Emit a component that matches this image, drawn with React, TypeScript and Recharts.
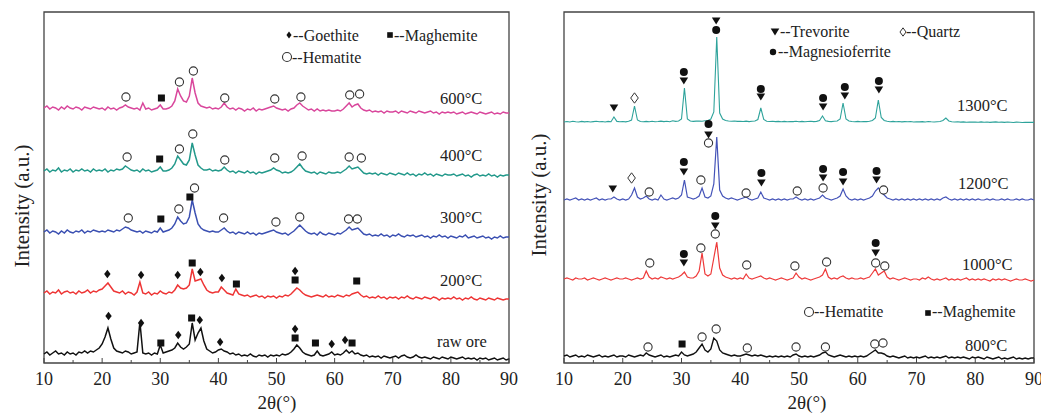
import { ComposedChart, Line, Scatter, XAxis, YAxis, ReferenceArea } from 'recharts'

// 2θ grid, 0.5° step from 10° to 90°
const twoTheta = Array.from({ length: 161 }, (_, i) => 10 + i * 0.5)
const xTicks = [10, 15, 20, 25, 30, 35, 40, 45, 50, 55, 60, 65, 70, 75, 80, 85, 90]

// ---- left panel: raw ore and low-temperature roasts ----
const rawOre = [
  9, 11, 8, 10, 12, 9, 10, 8, 11, 9, 10, 8, 11, 10, 12, 10, 12, 11, 13, 15,
  19, 26, 35, 24, 15, 12, 11, 10, 12, 11, 9, 10, 11, 41, 10, 9, 10, 8, 10, 9,
  18, 10, 11, 12, 13, 15, 20, 16, 14, 16, 19, 40, 23, 30, 35, 22, 14, 12, 10, 11,
  13, 14, 12, 11, 9, 10, 8, 9, 7, 8, 7, 9, 7, 6, 8, 7, 8, 6, 8, 7,
  8, 7, 9, 8, 9, 11, 14, 18, 15, 11, 9, 8, 7, 8, 12, 8, 7, 8, 9, 11,
  8, 9, 8, 10, 13, 10, 12, 9, 10, 8, 7, 8, 6, 7, 6, 7, 5, 7, 6, 5,
  6, 7, 5, 7, 8, 6, 5, 6, 8, 6, 5, 6, 5, 4, 6, 5, 4, 6, 5, 4,
  6, 5, 4, 5, 6, 4, 5, 4, 5, 3, 5, 4, 5, 3, 4, 5, 3, 4, 5, 3,
  4,
]
const t200 = [
  10, 12, 9, 11, 10, 13, 9, 11, 12, 10, 11, 9, 12, 10, 11, 13, 10, 12, 11, 13,
  14, 17, 20, 16, 12, 11, 10, 12, 9, 11, 10, 8, 11, 21, 10, 9, 11, 8, 10, 9,
  12, 10, 9, 11, 10, 13, 18, 15, 14, 15, 18, 34, 22, 23, 24, 18, 13, 11, 10, 11,
  11, 16, 13, 10, 9, 8, 14, 9, 8, 7, 8, 6, 7, 8, 6, 7, 5, 7, 6, 7,
  5, 7, 6, 8, 7, 9, 12, 15, 13, 10, 8, 7, 6, 7, 8, 7, 6, 8, 6, 7,
  6, 8, 7, 6, 8, 7, 9, 10, 11, 8, 6, 7, 5, 6, 5, 7, 5, 6, 4, 6,
  5, 6, 4, 6, 5, 7, 5, 4, 6, 5, 4, 6, 5, 4, 6, 5, 3, 5, 4, 5,
  4, 6, 4, 5, 3, 5, 4, 6, 4, 3, 5, 4, 3, 5, 4, 3, 5, 4, 3, 4,
  4,
]
const t300 = [
  11, 13, 10, 12, 11, 9, 12, 10, 13, 11, 10, 12, 11, 13, 10, 12, 11, 13, 12, 11,
  12, 11, 13, 12, 11, 13, 12, 14, 16, 15, 13, 12, 11, 12, 10, 12, 11, 10, 12, 11,
  15, 11, 12, 13, 15, 19, 26, 22, 19, 20, 26, 43, 30, 19, 15, 13, 12, 11, 12, 11,
  11, 13, 15, 12, 10, 11, 9, 11, 10, 9, 11, 9, 10, 8, 10, 9, 10, 11, 12, 13,
  11, 10, 9, 10, 8, 10, 12, 15, 18, 15, 12, 10, 9, 10, 8, 11, 9, 8, 10, 9,
  8, 10, 9, 11, 13, 16, 13, 14, 15, 12, 9, 8, 9, 7, 8, 7, 9, 7, 8, 6,
  8, 7, 9, 7, 6, 8, 7, 8, 6, 7, 8, 6, 7, 5, 7, 6, 8, 6, 7, 5,
  7, 6, 5, 7, 6, 8, 5, 6, 7, 5, 6, 7, 5, 6, 4, 6, 5, 7, 5, 6,
  6,
]
const t400 = [
  12, 14, 11, 13, 12, 15, 11, 13, 12, 14, 11, 13, 12, 14, 12, 13, 11, 14, 12, 13,
  12, 14, 11, 13, 12, 14, 13, 14, 17, 15, 13, 12, 13, 11, 14, 12, 13, 11, 12, 13,
  16, 12, 12, 13, 15, 19, 27, 23, 19, 18, 23, 40, 28, 18, 15, 13, 13, 14, 12, 13,
  12, 13, 16, 13, 11, 12, 10, 12, 11, 10, 12, 10, 11, 9, 11, 10, 11, 12, 13, 15,
  13, 12, 10, 11, 10, 11, 13, 16, 19, 15, 12, 11, 10, 11, 9, 11, 10, 9, 11, 10,
  10, 11, 10, 12, 14, 17, 14, 15, 16, 13, 10, 9, 10, 9, 10, 8, 10, 9, 8, 10,
  9, 8, 10, 9, 8, 10, 8, 9, 7, 9, 8, 10, 8, 9, 7, 9, 8, 7, 9, 8,
  8, 9, 7, 8, 9, 7, 8, 6, 8, 9, 7, 8, 7, 9, 7, 8, 6, 8, 7, 8,
  8,
]
const t600 = [
  15, 17, 14, 16, 15, 13, 16, 14, 17, 15, 14, 16, 15, 13, 16, 15, 14, 16, 15, 14,
  15, 13, 16, 14, 15, 13, 15, 16, 18, 16, 15, 14, 15, 13, 20, 14, 15, 13, 14, 15,
  18, 14, 14, 15, 17, 22, 34, 27, 22, 21, 27, 45, 30, 20, 17, 16, 15, 16, 14, 15,
  14, 16, 20, 16, 14, 15, 13, 15, 14, 12, 14, 13, 15, 12, 14, 13, 14, 15, 16, 17,
  15, 14, 13, 14, 12, 14, 15, 18, 20, 17, 15, 13, 14, 12, 14, 12, 13, 12, 13, 12,
  12, 13, 12, 14, 17, 20, 16, 18, 19, 15, 13, 12, 13, 11, 12, 11, 12, 10, 12, 11,
  11, 12, 10, 12, 11, 10, 12, 11, 10, 12, 11, 10, 11, 12, 10, 11, 9, 11, 10, 11,
  10, 11, 9, 10, 11, 9, 10, 11, 10, 9, 11, 10, 9, 10, 11, 9, 10, 9, 11, 10,
  10,
]

// ---- right panel: high-temperature roasts ----
const t800 = [
  7, 8, 6, 7, 8, 6, 7, 6, 8, 7, 6, 7, 8, 6, 7, 6, 7, 8, 6, 7,
  7, 6, 8, 7, 6, 7, 8, 7, 10, 8, 7, 6, 7, 8, 6, 7, 6, 7, 8, 7,
  11, 8, 7, 8, 9, 11, 15, 19, 13, 11, 14, 25, 22, 13, 10, 9, 8, 7, 8, 7,
  7, 8, 9, 8, 7, 8, 7, 8, 7, 6, 7, 6, 7, 6, 7, 6, 7, 6, 8, 9,
  7, 6, 7, 6, 7, 6, 7, 8, 10, 11, 8, 7, 6, 7, 8, 7, 6, 7, 6, 7,
  6, 7, 6, 7, 9, 11, 13, 10, 10, 9, 7, 6, 7, 6, 5, 6, 7, 5, 6, 5,
  6, 5, 6, 7, 5, 6, 5, 6, 5, 6, 7, 5, 6, 5, 6, 5, 6, 5, 4, 6,
  5, 6, 5, 4, 6, 5, 4, 5, 6, 4, 5, 4, 5, 6, 4, 5, 4, 5, 4, 5,
  5,
]
const t1000 = [
  9, 10, 9, 8, 10, 9, 9, 10, 8, 9, 10, 9, 8, 9, 10, 9, 8, 9, 10, 9,
  9, 10, 9, 8, 9, 10, 9, 10, 17, 11, 9, 10, 9, 11, 10, 9, 10, 9, 10, 11,
  13, 16, 11, 10, 10, 12, 17, 35, 14, 12, 14, 30, 46, 20, 13, 11, 10, 9, 10, 9,
  10, 9, 14, 10, 9, 10, 11, 12, 10, 9, 10, 9, 8, 9, 10, 9, 8, 9, 10, 15,
  11, 9, 10, 9, 8, 9, 10, 11, 13, 19, 11, 9, 10, 9, 11, 12, 10, 9, 10, 9,
  9, 10, 9, 10, 11, 15, 19, 13, 15, 17, 11, 9, 10, 9, 8, 9, 10, 9, 8, 9,
  9, 8, 10, 9, 11, 9, 8, 9, 8, 9, 10, 8, 9, 8, 9, 8, 9, 10, 8, 9,
  8, 9, 8, 9, 8, 7, 9, 8, 9, 8, 9, 8, 7, 8, 9, 8, 8, 9, 8, 7,
  8,
]
const t1200 = [
  8, 9, 8, 9, 10, 8, 9, 8, 9, 8, 9, 10, 8, 9, 8, 9, 9, 11, 9, 8,
  9, 8, 9, 13, 20, 11, 9, 10, 12, 9, 8, 9, 8, 13, 9, 8, 9, 10, 9, 10,
  13, 28, 11, 10, 9, 10, 12, 20, 11, 10, 12, 24, 71, 18, 12, 10, 9, 10, 9, 8,
  9, 10, 11, 9, 8, 9, 10, 16, 10, 9, 8, 9, 8, 9, 8, 9, 8, 9, 9, 11,
  9, 8, 9, 8, 9, 8, 9, 10, 13, 10, 9, 8, 9, 10, 12, 19, 12, 9, 8, 9,
  8, 9, 8, 9, 10, 12, 17, 20, 16, 13, 10, 9, 8, 9, 8, 9, 8, 9, 8, 9,
  8, 9, 8, 9, 8, 9, 8, 9, 8, 10, 11, 9, 8, 9, 8, 9, 8, 9, 8, 9,
  8, 9, 8, 8, 9, 8, 9, 8, 8, 9, 8, 9, 8, 8, 9, 8, 9, 8, 8, 9,
  8,
]
const t1300 = [
  8, 8.5, 8, 8.7, 8.2, 8, 8.6, 8.1, 8.5, 8, 8.4, 8.8, 8.2, 8.5, 8, 8.6, 8.3, 13, 8.6, 8.2,
  8.5, 8.1, 8.7, 10, 24, 10, 8.5, 8.2, 8.6, 8.3, 8.8, 8.2, 8.5, 8.9, 8.4, 8.7, 8.3, 9.3, 8.6, 9,
  11, 42, 11, 9, 8.6, 8.9, 9, 8.8, 9.2, 9.5, 11, 18, 93, 17, 11, 9.5, 9, 8.7, 9, 8.6,
  8.8, 8.5, 8.9, 8.4, 8.7, 9, 10.5, 22, 10.5, 8.8, 8.5, 8.7, 8.4, 8.6, 8.3, 8.6, 8.2, 8.5, 8.4, 8.7,
  8.3, 8.6, 8.2, 8.5, 8.8, 8.4, 8.6, 9.5, 14, 9.3, 8.6, 8.4, 8.7, 9, 11, 27, 11, 9, 8.5, 8.3,
  8.6, 8.2, 8.5, 8.4, 8.8, 9.5, 12, 30, 12.5, 9.5, 8.7, 8.3, 8.6, 8.2, 8.5, 8.1, 8.4, 8.2, 8.5, 8,
  8.3, 8.1, 8.4, 8, 8.5, 8.2, 8, 8.3, 8.5, 9.5, 12, 9, 8.3, 8, 8.2, 7.9, 8.1, 7.8, 8, 7.9,
  8, 7.7, 8.1, 7.8, 8, 7.6, 7.9, 8.1, 7.7, 7.9, 7.6, 8, 7.8, 7.5, 7.9, 7.7, 7.5, 7.8, 7.6, 7.7,
  7.6,
]

// vertical stacking offsets (a.u.)
const leftOffsets = { rawOre: 0, t200: 60, t300: 120, t400: 180, t600: 240 }
const rightOffsets = { t800: 0, t1000: 75, t1200: 155, t1300: 233 }

// phase markers: [2θ, height, phase]
type Mark = [number, number, string]
const leftMarks: Mark[] = [
  [24.1, 266, 'hem'], [30.2, 265, 'mag'], [33.3, 281, 'hem'], [35.7, 292, 'hem'], [41.1, 265, 'hem'],
  [49.7, 264, 'hem'], [54.2, 266, 'hem'], [62.6, 268, 'hem'], [64.3, 269, 'hem'],
  [24.3, 206, 'hem'], [29.9, 204, 'mag'], [33.3, 214, 'hem'], [35.6, 229, 'hem'], [41.1, 203, 'hem'],
  [49.7, 205, 'hem'], [54.4, 207, 'hem'], [62.5, 206, 'hem'], [64.6, 205, 'hem'],
  [24.5, 145, 'hem'], [30.1, 144, 'mag'], [33.2, 154, 'hem'], [35.1, 166, 'mag'], [35.9, 175, 'hem'],
  [40.9, 145, 'hem'], [49.9, 141, 'hem'], [54.0, 146, 'hem'], [62.4, 144, 'hem'], [63.9, 144, 'hem'],
  [20.9, 89, 'goe'], [26.7, 88, 'goe'], [33.0, 88, 'goe'], [35.5, 100, 'mag'], [36.9, 91, 'goe'],
  [40.6, 85, 'goe'], [43.1, 79, 'mag'], [53.2, 92, 'goe'], [53.2, 83, 'mag'], [63.8, 82, 'mag'],
  [21.1, 47, 'goe'], [26.7, 40, 'goe'], [30.1, 20, 'mag'], [33.1, 28, 'goe'], [35.4, 45, 'mag'],
  [36.8, 43, 'goe'], [40.3, 21, 'goe'], [53.2, 34, 'goe'], [53.2, 25, 'mag'], [56.7, 20, 'mag'],
  [59.5, 19, 'goe'], [61.8, 23, 'goe'], [63.0, 20, 'mag'],
]
const rightMarks: Mark[] = [
  [18.5, 255, 'tre'], [22.0, 265, 'qtz'], [30.4, 291, 'mgf'], [30.4, 282, 'tre'], [35.9, 342, 'tre'],
  [35.9, 333, 'mgf'], [43.5, 274, 'mgf'], [43.5, 266, 'tre'], [54.1, 265, 'mgf'], [54.1, 256, 'tre'],
  [57.8, 276, 'mgf'], [57.8, 267, 'tre'], [63.6, 282, 'mgf'], [63.6, 273, 'tre'],
  [18.3, 174, 'tre'], [21.5, 185, 'qtz'], [24.5, 171, 'hem'], [30.4, 201, 'mgf'], [30.4, 191, 'tre'],
  [33.3, 183, 'hem'], [34.6, 239, 'mgf'], [34.6, 228, 'tre'], [34.6, 220, 'hem'], [41.0, 170, 'hem'],
  [43.6, 190, 'mgf'], [43.6, 180, 'tre'], [49.7, 172, 'hem'], [54.1, 194, 'mgf'], [54.1, 185, 'tre'],
  [54.1, 175, 'hem'], [57.5, 191, 'mgf'], [57.5, 181, 'tre'], [63.2, 192, 'mgf'], [63.2, 183, 'tre'],
  [64.4, 173, 'hem'],
  [24.6, 100, 'hem'], [30.4, 109, 'mgf'], [30.4, 100, 'tre'], [33.3, 115, 'hem'], [35.75, 147, 'mgf'],
  [35.75, 137, 'tre'], [35.75, 129, 'hem'], [41.1, 98, 'hem'], [49.3, 97, 'hem'], [54.7, 101, 'hem'],
  [63.05, 120, 'mgf'], [63.05, 110, 'tre'], [63.05, 100, 'hem'], [64.6, 97, 'hem'],
  [24.3, 16, 'hem'], [30.1, 19, 'mag'], [33.5, 26, 'hem'], [35.9, 34, 'hem'], [41.2, 15, 'hem'],
  [49.5, 16, 'hem'], [54.5, 16, 'hem'], [62.9, 19, 'hem'], [64.3, 20, 'hem'],
]

const leftRows = twoTheta.map((x, i) => ({
  x,
  rawOre: rawOre[i] + leftOffsets.rawOre,
  t200: t200[i] + leftOffsets.t200,
  t300: t300[i] + leftOffsets.t300,
  t400: t400[i] + leftOffsets.t400,
  t600: t600[i] + leftOffsets.t600,
}))
const rightRows = twoTheta.map((x, i) => ({
  x,
  t800: t800[i] + rightOffsets.t800,
  t1000: t1000[i] + rightOffsets.t1000,
  t1200: t1200[i] + rightOffsets.t1200,
  t1300: t1300[i] + rightOffsets.t1300,
}))
const toPoints = (m: Mark[]) => m.map(([x, y, kind]) => ({ x, y, kind }))

const SERIF = "'Liberation Serif', 'Times New Roman', serif"
const INK = '#111'
const AXIS = '#444'

function Glyph({ kind, cx, cy, s = 1 }: { kind: string; cx: number; cy: number; s?: number }) {
  if (kind === 'goe')
    return <polygon points={`${cx},${cy - 4.3 * s} ${cx + 3.2 * s},${cy} ${cx},${cy + 4.3 * s} ${cx - 3.2 * s},${cy}`} fill={INK} />
  if (kind === 'mag')
    return <rect x={cx - 3.5 * s} y={cy - 3.5 * s} width={7 * s} height={7 * s} fill={INK} />
  if (kind === 'hem')
    return <circle cx={cx} cy={cy} r={4.1 * s} fill="#fff" stroke="#333" strokeWidth={1.1} />
  if (kind === 'mgf')
    return <circle cx={cx} cy={cy} r={4 * s} fill={INK} />
  if (kind === 'tre')
    return <polygon points={`${cx - 4.3 * s},${cy - 3.4 * s} ${cx + 4.3 * s},${cy - 3.4 * s} ${cx},${cy + 3.6 * s}`} fill={INK} />
  // quartz: open diamond
  return <polygon points={`${cx},${cy - 5.2 * s} ${cx + 3.8 * s},${cy} ${cx},${cy + 5.2 * s} ${cx - 3.8 * s},${cy}`} fill="#fff" stroke="#333" strokeWidth={1} />
}

function XTick(props: any) {
  const { x, y, payload } = props
  const major = payload.value % 10 === 0
  return (
    <g>
      <line x1={x} x2={x} y1={y} y2={y - (major ? 5 : 3)} stroke={AXIS} strokeWidth={1} />
      {major && (
        <text x={x} y={y + 22} textAnchor="middle" fontSize={18} fontFamily={SERIF} fill="#222">
          {payload.value}
        </text>
      )}
    </g>
  )
}

function Panel({ rows, series, marks, width, left, right }: any) {
  return (
    <ComposedChart width={width} height={414} data={rows} margin={{ top: 12, right, bottom: 0, left }} style={{ overflow: 'visible' }}>
      <XAxis
        dataKey="x"
        type="number"
        domain={[10, 90]}
        ticks={xTicks}
        interval={0}
        height={51}
        tickSize={0}
        tickMargin={0}
        axisLine={false}
        tickLine={false}
        tick={<XTick />}
      />
      <YAxis type="number" domain={[0, 351]} hide />
      <ReferenceArea x1={10} x2={90} y1={0} y2={351} fill="none" stroke={AXIS} strokeWidth={1.3} ifOverflow="visible" />
      {series.map((s: any) => (
        <Line
          key={s.key}
          dataKey={s.key}
          type="linear"
          stroke={s.color}
          strokeWidth={s.w}
          dot={false}
          isAnimationActive={false}
        />
      ))}
      <Scatter
        data={toPoints(marks)}
        dataKey="y"
        isAnimationActive={false}
        shape={(p: any) => <Glyph kind={p.payload.kind} cx={p.cx} cy={p.cy} />}
      />
    </ComposedChart>
  )
}

const leftSeries = [
  { key: 'rawOre', color: '#111111', w: 1.5 },
  { key: 't200', color: '#ee3535', w: 1.5 },
  { key: 't300', color: '#3b50b2', w: 1.5 },
  { key: 't400', color: '#23998b', w: 1.5 },
  { key: 't600', color: '#d9479c', w: 1.5 },
]
const rightSeries = [
  { key: 't800', color: '#111111', w: 1.4 },
  { key: 't1000', color: '#ee3a3a', w: 1.2 },
  { key: 't1200', color: '#4453b8', w: 1.2 },
  { key: 't1300', color: '#2ea39b', w: 1.1 },
]

const leftLabels = [
  { text: '600°C', x: 440, y: 104 },
  { text: '400°C', x: 440, y: 161 },
  { text: '300°C', x: 440, y: 223 },
  { text: '200°C', x: 440, y: 286 },
  { text: 'raw ore', x: 437, y: 347 },
]
const rightLabels = [
  { text: '1300°C', x: 957, y: 111 },
  { text: '1200°C', x: 958, y: 189 },
  { text: '1000°C', x: 962, y: 270 },
  { text: '800°C', x: 965, y: 351 },
]
const legendItems = [
  { kind: 'goe', s: 0.8, cx: 289, cy: 35, text: '--Goethite', tx: 293, ty: 41 },
  { kind: 'mag', s: 0.8, cx: 390, cy: 35, text: '--Maghemite', tx: 394, ty: 41 },
  { kind: 'hem', s: 1.1, cx: 287, cy: 57, text: '--Hematite', tx: 292, ty: 63 },
  { kind: 'tre', s: 1, cx: 775, cy: 32, text: '--Trevorite', tx: 780, ty: 37 },
  { kind: 'qtz', s: 0.8, cx: 903, cy: 32, text: '--Quartz', tx: 906, ty: 37 },
  { kind: 'mgf', s: 0.8, cx: 773, cy: 52, text: '--Magnesioferrite', tx: 778, ty: 57 },
  { kind: 'hem', s: 1.1, cx: 809, cy: 312, text: '--Hematite', tx: 814, ty: 317 },
  { kind: 'mag', s: 0.8, cx: 928, cy: 313, text: '--Maghemite', tx: 932, ty: 317 },
]

export default function App() {
  return (
    <div style={{ position: 'absolute', left: 0, top: 0, width: 1041, height: 414, background: '#fff', overflow: 'hidden' }}>
      <div style={{ position: 'absolute', left: 0, top: 0 }}>
        <Panel rows={leftRows} series={leftSeries} marks={leftMarks} width={530} left={44} right={21} />
      </div>
      <div style={{ position: 'absolute', left: 530, top: 0 }}>
        <Panel rows={rightRows} series={rightSeries} marks={rightMarks} width={511} left={34} right={7} />
      </div>
      <svg
        width={1041}
        height={414}
        style={{ position: 'absolute', left: 0, top: 0, pointerEvents: 'none' }}
        fontFamily={SERIF}
        fill="#222"
      >
        <text transform="translate(29,206) rotate(-90)" textAnchor="middle" fontSize={21}>Intensity (a.u.)</text>
        <text transform="translate(546,195) rotate(-90)" textAnchor="middle" fontSize={21}>Intensity (a.u.)</text>
        <text x={277} y={409} textAnchor="middle" fontSize={19}>2θ(°)</text>
        <text x={807} y={409} textAnchor="middle" fontSize={19}>2θ(°)</text>
        {[...leftLabels, ...rightLabels].map((l) => (
          <text key={l.text} x={l.x} y={l.y} fontSize={16.5}>{l.text}</text>
        ))}
        {legendItems.map((it, i) => (
          <g key={i}>
            <Glyph kind={it.kind} cx={it.cx} cy={it.cy} s={it.s} />
            <text x={it.tx} y={it.ty} fontSize={16}>{it.text}</text>
          </g>
        ))}
      </svg>
    </div>
  )
}
